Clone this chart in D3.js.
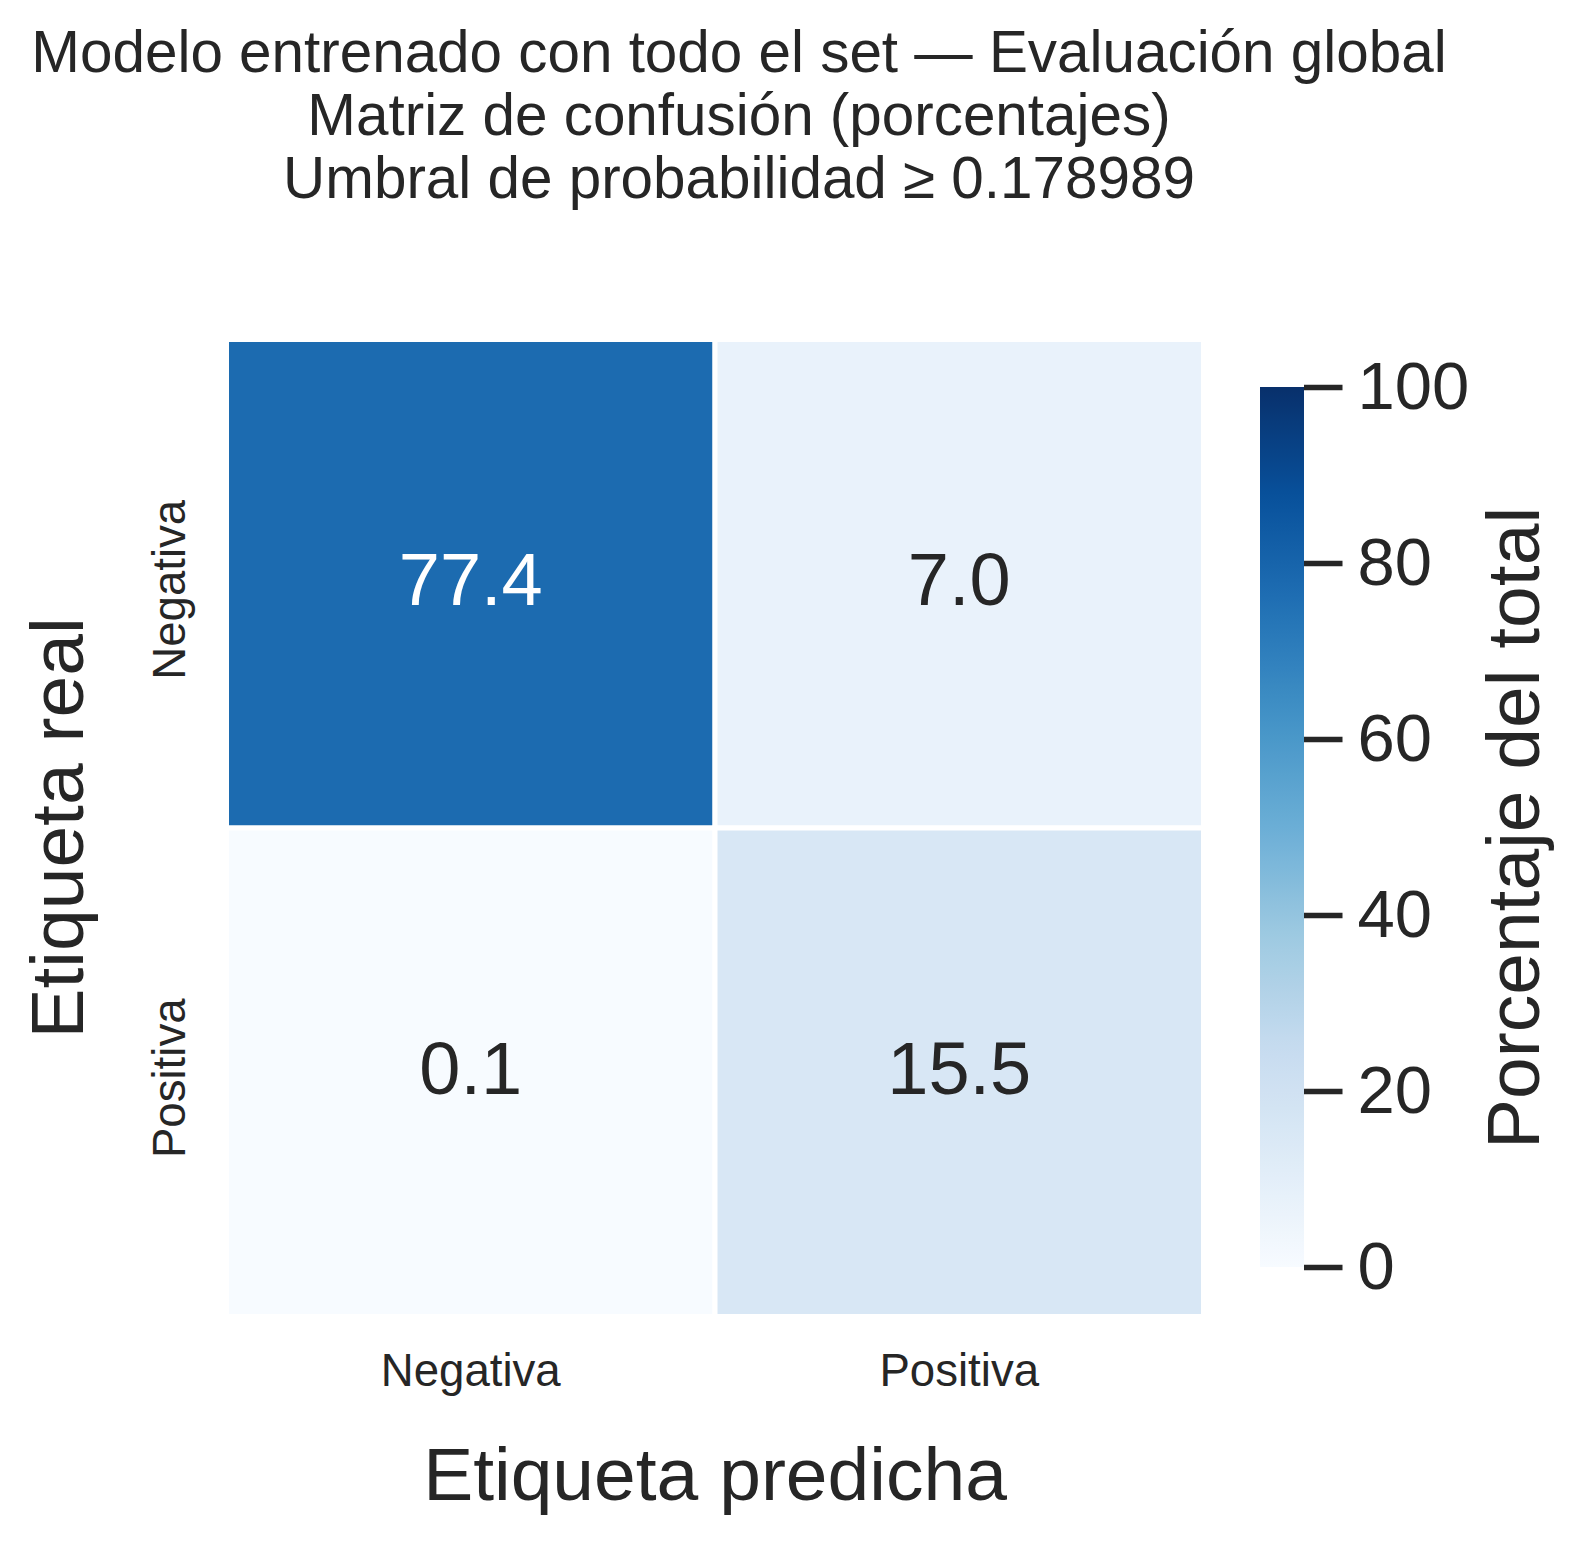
<!DOCTYPE html>
<html>
<head>
<meta charset="utf-8">
<script src="https://cdn.jsdelivr.net/npm/d3@7"></script>
<style>
  body { margin: 0; background: #fff; }
  text { font-family: Arial, "Liberation Sans", sans-serif; fill: #262626; }
</style>
</head>
<body>
<div id="chart"></div>
<script>
// data
var predicted = ['Negativa', 'Positiva']
var actual = ['Negativa', 'Positiva']
// rows = actual, cols = predicted (percent of total)
var percentRows = [
  [77.4, 7.0],
  [0.1, 15.5]
]
var colorbarTicks = [0, 20, 40, 60, 80, 100]
var titleLines = [
  'Modelo entrenado con todo el set — Evaluación global',
  'Matriz de confusión (porcentajes)',
  'Umbral de probabilidad ≥ 0.178989'
]

var width = 1586
var height = 1544

var svg = d3.select('#chart')
  .append('svg')
  .attr('width', width)
  .attr('height', height)

// heatmap area
var hm = { left: 226.5, top: 339.5, size: 977 }

var xScale = d3.scaleBand().domain(predicted).range([hm.left, hm.left + hm.size])
var yScale = d3.scaleBand().domain(actual).range([hm.top, hm.top + hm.size])

// matplotlib "Blues" is a linear segmentation of these 9 colours
var blues = ['#f7fbff', '#deebf7', '#c6dbef', '#9ecae1', '#6baed6', '#4292c6', '#2171b5', '#08519c', '#08306b']
var colorScale = d3.scaleLinear()
  .domain(d3.range(blues.length).map(i => i * 100 / (blues.length - 1)))
  .range(blues)
  .interpolate(d3.interpolateRgb)

var cells = []
percentRows.forEach((row, i) => {
  row.forEach((v, j) => {
    cells.push({ actual: actual[i], predicted: predicted[j], value: v })
  })
})

svg.selectAll('rect.cell')
  .data(cells)
  .enter().append('rect')
  .attr('class', 'cell')
  .attr('x', d => xScale(d.predicted))
  .attr('y', d => yScale(d.actual))
  .attr('width', xScale.bandwidth())
  .attr('height', yScale.bandwidth())
  .attr('fill', d => colorScale(d.value))
  .attr('stroke', '#fff')
  .attr('stroke-width', 5)

svg.selectAll('text.annot')
  .data(cells)
  .enter().append('text')
  .attr('class', 'annot')
  .attr('x', d => xScale(d.predicted) + xScale.bandwidth() / 2)
  .attr('y', d => yScale(d.actual) + yScale.bandwidth() / 2)
  .attr('dy', '0.29em')
  .attr('text-anchor', 'middle')
  .style('font-size', '74px')
  .style('fill', d => d.value > 50 ? '#ffffff' : '#262626')
  .text(d => d.value.toFixed(1))

// x tick labels
var xAxis = d3.axisBottom(xScale).tickSize(0)
svg.append('g')
  .attr('class', 'axis x-axis')
  .attr('transform', 'translate(0,' + (hm.top + hm.size) + ')')
  .call(xAxis)
  .call(g => g.select('.domain').remove())
  .selectAll('text')
  .style('font-size', '45.6px')
  .style('fill', '#262626')
  .attr('dy', 0)
  .attr('y', 69)

// y tick labels (rotated)
var yAxis = d3.axisLeft(yScale).tickSize(0)
var yg = svg.append('g')
  .attr('class', 'axis y-axis')
  .attr('transform', 'translate(' + hm.left + ',0)')
  .call(yAxis)
yg.select('.domain').remove()
yg.selectAll('.tick text')
  .attr('x', 0)
  .attr('dy', 0)
  .attr('text-anchor', 'middle')
  .attr('transform', 'translate(-41.2,6) rotate(-90)')
  .style('font-size', '45.6px')
  .style('fill', '#262626')

// axis titles
svg.append('text')
  .attr('x', hm.left + hm.size / 2)
  .attr('y', 1500)
  .attr('text-anchor', 'middle')
  .style('font-size', '75px')
  .text('Etiqueta predicha')

svg.append('text')
  .attr('transform', 'translate(83,' + (hm.top + hm.size / 2) + ') rotate(-90)')
  .attr('text-anchor', 'middle')
  .style('font-size', '75px')
  .text('Etiqueta real')

// title
svg.append('g')
  .selectAll('text')
  .data(titleLines)
  .enter().append('text')
  .attr('x', 739)
  .attr('y', (d, i) => 72 + i * 63)
  .attr('text-anchor', 'middle')
  .style('font-size', '58.4px')
  .text(d => d)

// colorbar
var cb = { x: 1260, top: 387, bottom: 1267, width: 44 }
var cbScale = d3.scaleLinear().domain([0, 100]).range([cb.bottom, cb.top])

var grad = svg.append('defs').append('linearGradient')
  .attr('id', 'cbgrad')
  .attr('x1', 0).attr('y1', 1).attr('x2', 0).attr('y2', 0)
grad.selectAll('stop')
  .data(d3.range(0, 101, 2))
  .enter().append('stop')
  .attr('offset', d => d + '%')
  .attr('stop-color', d => colorScale(d))

svg.append('rect')
  .attr('x', cb.x)
  .attr('y', cb.top)
  .attr('width', cb.width)
  .attr('height', cb.bottom - cb.top)
  .attr('fill', 'url(#cbgrad)')

var cbAxis = d3.axisRight(cbScale).tickValues(colorbarTicks).tickSize(38.5).tickPadding(15)
var cbg = svg.append('g')
  .attr('class', 'axis cb-axis')
  .attr('transform', 'translate(' + (cb.x + cb.width) + ',0)')
  .call(cbAxis)
cbg.select('.domain').remove()
cbg.selectAll('.tick line')
  .attr('stroke', '#262626')
  .attr('stroke-width', 5.5)
cbg.selectAll('.tick text')
  .style('font-size', '67px')
  .style('fill', '#262626')

svg.append('text')
  .attr('transform', 'translate(1539,' + (hm.top + hm.size / 2) + ') rotate(-90)')
  .attr('text-anchor', 'middle')
  .style('font-size', '75px')
  .text('Porcentaje del total')
</script>
</body>
</html>
